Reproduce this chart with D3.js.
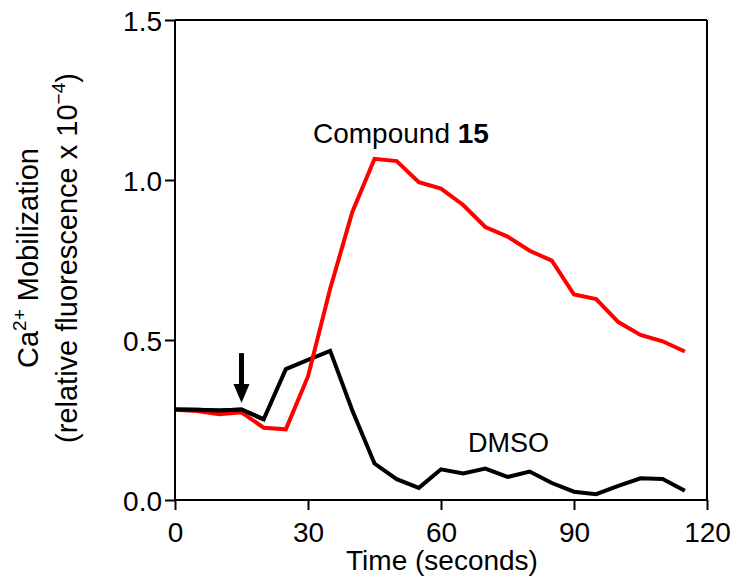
<!DOCTYPE html>
<html>
<head>
<meta charset="utf-8">
<script src="https://cdn.jsdelivr.net/npm/d3@7"></script>
<style>
  html, body { margin: 0; padding: 0; background: #fff; }
  svg { display: block; }
  text { font-family: Arial, "Liberation Sans", Helvetica, sans-serif; fill: #000; }
</style>
</head>
<body>
<svg id="chart" width="738" height="586"></svg>
<script>
// ---- Data ----
const times = [0,5,10,15,20,25,30,35,40,45,50,55,60,65,70,75,80,85,90,95,100,105,110,115];
const compound15 = [0.282,0.278,0.268,0.274,0.226,0.221,0.386,0.66,0.90,1.066,1.059,0.993,0.973,0.922,0.853,0.823,0.779,0.748,0.642,0.628,0.556,0.516,0.496,0.464];
const dmso = [0.283,0.282,0.280,0.283,0.252,0.409,0.438,0.466,0.280,0.114,0.065,0.038,0.096,0.083,0.098,0.072,0.089,0.053,0.026,0.018,0.044,0.068,0.066,0.029];
const xTicks = [0,30,60,90,120];
const yTicks = [0.0,0.5,1.0,1.5];
const yTickLabels = ["0.0","0.5","1.0","1.5"];
const arrowTime = 15, arrowTop = 0.459, arrowTip = 0.303;

// ---- Layout ----
const svg = d3.select("#chart");
const pL = 175, pR = 707, pT = 20, pB = 500;
const x = d3.scaleLinear().domain([0,120]).range([pL,pR]);
const y = d3.scaleLinear().domain([0,1.5]).range([pB,pT]);
const FS = 28;

// Frame (top and right)
svg.append("line").attr("x1",pL).attr("x2",pR).attr("y1",pT).attr("y2",pT)
  .attr("stroke","#000").attr("stroke-width",2);
svg.append("line").attr("x1",pR).attr("x2",pR).attr("y1",pT).attr("y2",pB)
  .attr("stroke","#000").attr("stroke-width",2);

// X axis
const xAxis = svg.append("g").attr("transform",`translate(0,${pB})`)
  .call(d3.axisBottom(x).tickValues(xTicks).tickSize(10).tickPadding(6).tickFormat(d3.format("d")));
xAxis.select(".domain").attr("stroke-width",2).attr("d",`M${pL},0H${pR}`);
xAxis.selectAll(".tick line").attr("stroke-width",2);
xAxis.selectAll("text").attr("font-size",FS).attr("dy",null).attr("y",42)
  .style("font-family","Arial, 'Liberation Sans', sans-serif");

// Y axis
const yAxis = svg.append("g").attr("transform",`translate(${pL},0)`)
  .call(d3.axisLeft(y).tickValues(yTicks).tickSize(10).tickPadding(4).tickFormat((d,i)=>yTickLabels[i]));
yAxis.select(".domain").attr("stroke-width",2).attr("d",`M0,${pB}V${pT}`);
yAxis.selectAll(".tick line").attr("stroke-width",2);
yAxis.selectAll("text").attr("font-size",FS).attr("dy","0.36em").attr("x",-13)
  .style("font-family","Arial, 'Liberation Sans', sans-serif");

// Lines
const line = d3.line().x((d,i)=>x(times[i])).y(d=>y(d));
svg.append("path").datum(dmso).attr("d",line).attr("fill","none")
  .attr("stroke","#000").attr("stroke-width",4).attr("stroke-linejoin","miter");
svg.append("path").datum(compound15).attr("d",line).attr("fill","none")
  .attr("stroke","#ff0000").attr("stroke-width",4).attr("stroke-linejoin","miter");
svg.append("path").datum(dmso.slice(0,5)).attr("d",line).attr("fill","none")
  .attr("stroke","#000").attr("stroke-width",4);

// Arrow
const ax = x(arrowTime), aTop = y(arrowTop), aTip = y(arrowTip);
const headLen = 19, headHalf = 8;
svg.append("line").attr("x1",ax).attr("x2",ax).attr("y1",aTop).attr("y2",aTip-headLen+1)
  .attr("stroke","#000").attr("stroke-width",5);
svg.append("path")
  .attr("d",`M${ax-headHalf},${aTip-headLen}L${ax+headHalf},${aTip-headLen}L${ax},${aTip}Z`)
  .attr("fill","#000");

// Annotations
const c = svg.append("text").attr("x",313).attr("y",143).attr("font-size",FS);
c.append("tspan").text("Compound ");
c.append("tspan").attr("font-weight","bold").text("15");
svg.append("text").attr("x",468).attr("y",452).attr("font-size",27).text("DMSO");

// X title
svg.append("text").attr("x",(pL+pR)/2 + 1).attr("y",570).attr("text-anchor","middle")
  .attr("font-size",FS).text("Time (seconds)");

// Y title (two lines, rotated)
const YFS = 29;
const yt1 = svg.append("text").attr("transform",`translate(38,${(pT+pB)/2 - 2}) rotate(-90)`)
  .attr("text-anchor","middle").attr("font-size",YFS);
yt1.append("tspan").text("Ca");
yt1.append("tspan").attr("font-size",19).attr("dy",-12).text("2+");
yt1.append("tspan").attr("dy",12).text(" Mobilization");
const yt2 = svg.append("text").attr("transform",`translate(77,${(pT+pB)/2 - 2}) rotate(-90)`)
  .attr("text-anchor","middle").attr("font-size",YFS);
yt2.append("tspan").text("(relative fluorescence x 10");
yt2.append("tspan").attr("font-size",19).attr("dy",-12).text("\u22124");
yt2.append("tspan").attr("dy",12).text(")");
</script>
</body>
</html>
